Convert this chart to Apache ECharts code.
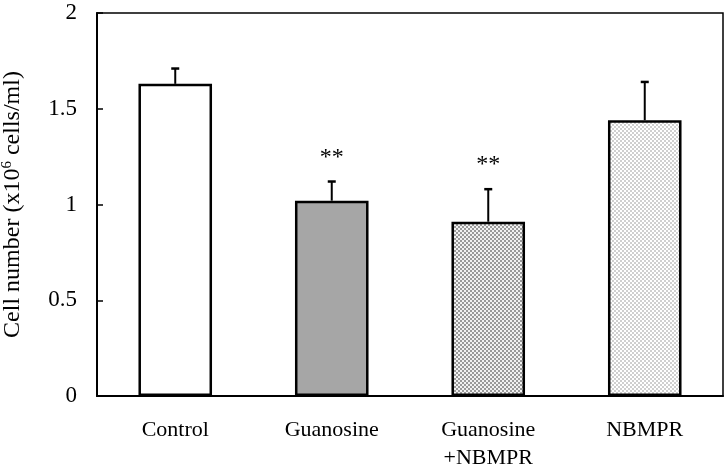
<!DOCTYPE html>
<html>
<head>
<meta charset="utf-8">
<script src="https://cdn.jsdelivr.net/npm/echarts@6/dist/echarts.min.js"></script>
<style>
  html, body { margin: 0; padding: 0; background: #fff; }
  #chart { width: 726px; height: 465px; }
</style>
</head>
<body>
<div id="chart"></div>
<script>
// data
var categories = ['Control', 'Guanosine', 'Guanosine\n+NBMPR', 'NBMPR'];
var means = [1.63, 1.02, 0.91, 1.44];
var errors = [0.08, 0.10, 0.17, 0.20];
var marks = ['', '**', '**', ''];
var yTicks = [0, 0.5, 1, 1.5, 2];

// checkerboard fill used by the patterned bars
function checker(dark, light) {
  var c = document.createElement('canvas');
  c.width = 4; c.height = 4;
  var ctx = c.getContext('2d');
  ctx.fillStyle = light;
  ctx.fillRect(0, 0, 4, 4);
  ctx.fillStyle = dark;
  ctx.fillRect(0, 0, 2, 2);
  ctx.fillRect(2, 2, 2, 2);
  return { image: c, repeat: 'repeat' };
}

var fills = [
  '#ffffff',
  '#a6a6a6',
  checker('#9a9a9a', '#f2f2f2'),
  checker('#cfcfcf', '#ffffff')
];

var chart = echarts.init(document.getElementById('chart'));
var font = 'Liberation Serif';

var option = {
  animation: false,
  grid: {
    left: 97, right: 3, top: 13, bottom: 69,
    outerBoundsMode: 'none',
    containLabel: false,
    show: true, borderColor: '#000', borderWidth: 1.5
  },
  xAxis: {
    type: 'category',
    data: categories,
    axisLine: { lineStyle: { color: '#000', width: 2 } },
    axisTick: { show: false },
    axisLabel: {
      color: '#000', fontFamily: font, fontSize: 22,
      margin: 20, lineHeight: 28, interval: 0
    }
  },
  yAxis: {
    type: 'value',
    min: 0, max: 2, interval: 0.5,
    name: 'Cell number (x10{sup|6} cells/ml)',
    nameLocation: 'middle',
    nameGap: 72,
    nameTextStyle: {
      color: '#000', fontFamily: font, fontSize: 24,
      rich: { sup: { fontFamily: font, fontSize: 15, verticalAlign: 'top', padding: [0, 0, 10, 0], color: '#000' } }
    },
    splitLine: { show: false },
    axisLine: { show: true, lineStyle: { color: '#000', width: 2 } },
    axisTick: { show: true, inside: true, length: 6, lineStyle: { color: '#000', width: 1.5 } },
    axisLabel: {
      color: '#000', fontFamily: font, fontSize: 23, margin: 20,
      formatter: function (v) { return yTicks.indexOf(v) >= 0 ? String(v) : ''; }
    }
  },
  series: [
    {
      type: 'bar',
      barWidth: '47%',
      data: means.map(function (v, i) {
        return { value: v, itemStyle: { color: fills[i] } };
      }),
      itemStyle: { borderColor: '#000', borderWidth: 2.5 },
      z: 2
    },
    {
      type: 'custom',
      z: 3,
      data: means.map(function (v, i) { return [i, v, v + errors[i], marks[i]]; }),
      renderItem: function (params, api) {
        var base = api.coord([api.value(0), api.value(1)]);
        var top = api.coord([api.value(0), api.value(2)]);
        var x = base[0];
        var children = [
          { type: 'line', shape: { x1: x, y1: base[1], x2: x, y2: top[1] },
            style: { stroke: '#000', lineWidth: 2 } },
          { type: 'line', shape: { x1: x - 4, y1: top[1], x2: x + 4, y2: top[1] },
            style: { stroke: '#000', lineWidth: 2.5 } }
        ];
        var m = marks[params.dataIndex];
        if (m) {
          children.push({
            type: 'text',
            style: {
              text: m, x: x, y: top[1] - 12,
              align: 'center', verticalAlign: 'bottom',
              font: '24px "' + font + '"', fill: '#000'
            }
          });
        }
        return { type: 'group', children: children };
      }
    }
  ]
};

chart.setOption(option);
</script>
</body>
</html>
